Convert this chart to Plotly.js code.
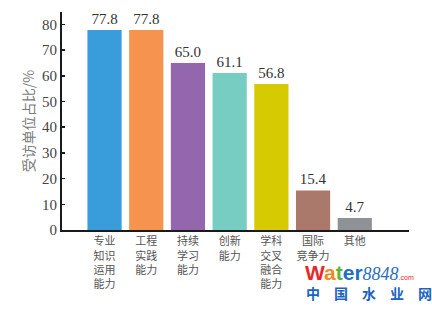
<!DOCTYPE html>
<html>
<head>
<meta charset="utf-8">
<script src="https://cdn.plot.ly/plotly-3.0.1.min.js"></script>
<style>
  html, body { margin: 0; padding: 0; background: #fff; }
  #chart { width: 432px; height: 309px; }
</style>
</head>
<body>
<div id="chart"></div>
<script>
// Share of surveyed organisations naming each competency (%)
const categories = ['专业知识运用能力', '工程实践能力', '持续学习能力', '创新能力', '学科交叉融合能力', '国际竞争力', '其他'];
const tickLabels = ['专业<br>知识<br>运用<br>能力', '工程<br>实践<br>能力', '持续<br>学习<br>能力', '创新<br>能力', '学科<br>交叉<br>融合<br>能力', '国际<br>竞争力', '其他'];
const shares = [77.8, 77.8, 65.0, 61.1, 56.8, 15.4, 4.7];
const barColors = ['#3a9ddb', '#f5934f', '#9466ad', '#78cdc2', '#d6ca02', '#ab796c', '#8e9297'];
const yTicks = [0, 10, 20, 30, 40, 50, 60, 70, 80];

const serif = 'Liberation Serif, Times New Roman, DejaVu Serif, serif';
const cjk = 'Noto Sans CJK SC';

const trace = {
  type: 'bar',
  x: categories,
  y: shares,
  marker: { color: barColors, line: { width: 0 } },
  text: shares.map(v => v.toFixed(1)),
  textposition: 'outside',
  cliponaxis: false,
  textfont: { family: serif, size: 15, color: '#333333' },
  hoverinfo: 'x+y'
};

const layout = {
  width: 432,
  height: 309,
  margin: { l: 62, r: 23, t: 12, b: 79 },
  paper_bgcolor: '#ffffff',
  plot_bgcolor: '#ffffff',
  bargap: 0.18,
  showlegend: false,
  xaxis: {
    type: 'category',
    range: [-1.02, 7.3],
    tickvals: categories,
    ticktext: tickLabels,
    tickfont: { family: cjk, size: 11, color: '#555555' },
    ticks: '',
    showline: true,
    linecolor: '#1a1a1a',
    linewidth: 2,
    showgrid: false,
    zeroline: false,
    fixedrange: true
  },
  yaxis: {
    range: [0, 84.8],
    tickvals: yTicks,
    ticks: 'inside',
    ticklen: 3,
    tickwidth: 1.5,
    tickcolor: '#1a1a1a',
    tickfont: { family: serif, size: 15, color: '#444444' },
    showline: true,
    linecolor: '#1a1a1a',
    linewidth: 2,
    showgrid: false,
    zeroline: false,
    title: { text: '受访单位占比/%', font: { family: cjk, size: 14, color: '#7a7a7a' }, standoff: 4 },
    fixedrange: true
  },
  annotations: [
    {
      xref: 'paper', yref: 'paper', x: 0.694, y: -0.195, xanchor: 'left', yanchor: 'middle',
      showarrow: false,
      text: '<b><span style="color:#e8262b">W</span><span style="color:#f08a1c">a</span><span style="color:#5cb531">t</span><span style="color:#1f6fc5">er</span></b><i><span style="font-family:Liberation Serif;color:#2a6fc0;font-size:18px">8848</span></i><span style="color:#e8262b;font-size:7px">.com</span>',
      font: { family: 'Liberation Sans', size: 21, color: '#1f6fc5' }
    },
    {
      xref: 'paper', yref: 'paper', x: 0.698, y: -0.29, xanchor: 'left', yanchor: 'middle',
      showarrow: false,
      text: '<b>中　国　水　业　网</b>',
      font: { family: cjk, size: 14, color: '#1a63c2' }
    }
  ]
};

Plotly.newPlot('chart', [trace], layout, { displayModeBar: false, staticPlot: true });
</script>
</body>
</html>
